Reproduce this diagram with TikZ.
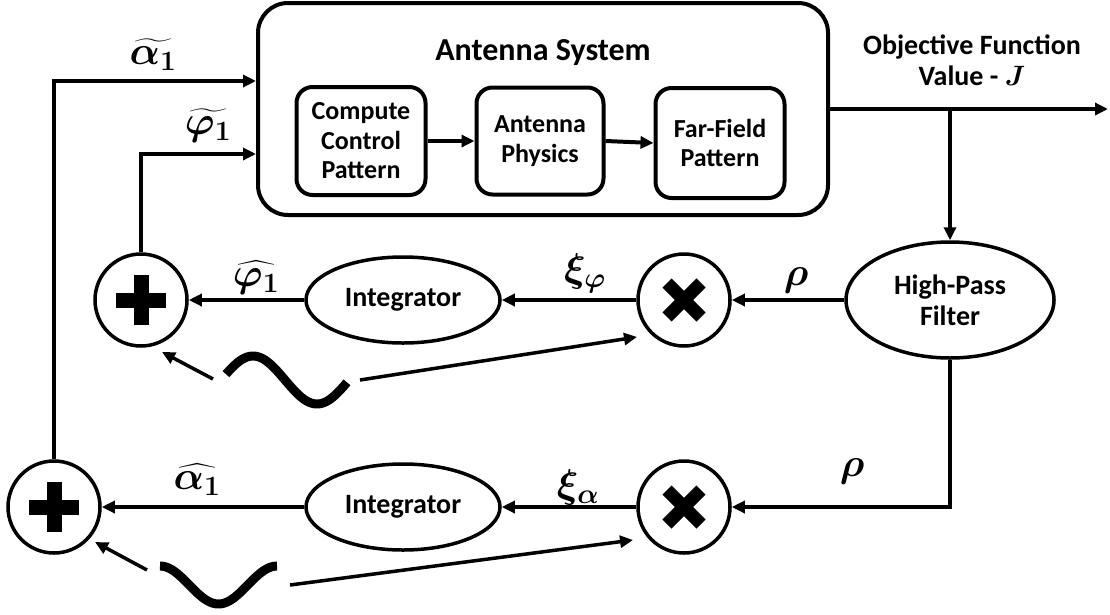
\RequirePackage{fix-cm}
\documentclass[tikz,border=0pt]{standalone}
\usepackage{amsmath}
\usepackage{fontspec}
\setmainfont{Carlito}
\usetikzlibrary{shapes.geometric,arrows.meta}
\newcommand\fnttitle{\fontsize{32}{36}\selectfont\bfseries}
\newcommand\fntin{\fontsize{26}{29.5}\selectfont\bfseries}
\newcommand\fntbody{\fontsize{28}{31}\selectfont\bfseries}
\newcommand\fntmath{\fontsize{40}{40}\selectfont\boldmath}
\begin{document}
\begin{tikzpicture}[x=1pt,y=-1pt,
  every node/.style={inner sep=0pt},
  arr/.style={line width=4pt, -{Triangle[length=13pt,width=12pt]}},
  thinarr/.style={line width=3.5pt, -{Triangle[length=13pt,width=12pt]}},
  outerbox/.style={draw, line width=4pt, rounded corners=30pt, minimum width=570pt, minimum height=212pt},
  innerbox/.style={draw, line width=4pt, rounded corners=16pt, align=center, font=\fntin},
  oval/.style={draw, ellipse, line width=3.5pt, align=center, font=\fntbody},
  junction/.style={draw, circle, line width=3.5pt, minimum size=92pt},
  sym/.style={line width=15pt},
  lbl/.style={font=\fntmath},
  wave/.style={line width=9pt},
]
\useasboundingbox (0,0) rectangle (1110,614);

% antenna system
\node[outerbox] (sys) at (543,109) {};
\node[font=\fnttitle, anchor=base] (title) at (543,60) {Antenna System};
\node[innerbox, minimum width=129pt, minimum height=108pt] (ccp) at (361,141) {Compute\\Control\\Pattern};
\node[innerbox, minimum width=127pt, minimum height=107pt] (aph) at (540,141) {Antenna\\Physics};
\node[innerbox, minimum width=129pt, minimum height=110pt] (ffp) at (720,143) {Far-Field\\Pattern};
\draw[arr] (ccp.east) -- (aph.west);
\draw[arr] (aph.east) -- (ffp.west);

% output
\node[font=\fntbody, align=center] (obj) at (972,60) {Objective Function\\Value - {\boldmath$J$}};
\coordinate (jout) at (1108,109);
\coordinate (br) at (950,109);
\draw[arr] (sys.east) -- (jout);

% feedback blocks
\node[oval, minimum width=208pt, minimum height=116pt] (hpf) at (950,300) {High-Pass\\Filter};
\node[junction] (mul1) at (684,300) {};
\node[junction] (mul2) at (684,507) {};
\node[oval, minimum width=194pt, minimum height=86pt] (int1) at (403,300) {Integrator};
\node[oval, minimum width=194pt, minimum height=86pt] (int2) at (403,507) {Integrator};
\node[junction] (plus1) at (141,300) {};
\node[junction] (plus2) at (54,507) {};

% symbols
\foreach \p in {plus1,plus2}{
  \draw[sym] ([xshift=-25pt]\p.center) -- ([xshift=25pt]\p.center);
  \draw[sym] ([yshift=-25pt]\p.center) -- ([yshift=25pt]\p.center);
}
\foreach \m in {mul1,mul2}{
  \draw[sym, line width=13pt] ([shift={(-17pt,-17pt)}]\m.center) -- ([shift={(17pt,17pt)}]\m.center);
  \draw[sym, line width=13pt] ([shift={(-17pt,17pt)}]\m.center) -- ([shift={(17pt,-17pt)}]\m.center);
}

% connectors
\draw[arr] (br) -- (hpf.north);
\draw[arr] (hpf.west) -- (mul1.east);
\draw[arr] (mul1.west) -- (int1.east);
\draw[arr] (int1.west) -- (plus1.east);
\draw[arr] (hpf.south) |- (mul2.east);
\draw[arr] (mul2.west) -- (int2.east);
\draw[arr] (int2.west) -- (plus2.east);
\draw[arr] (plus1.north) |- ([yshift=-45pt]sys.west);
\draw[arr] (plus2.north) |- ([yshift=28pt]sys.west);

% sine sources
\draw[wave] plot[domain=226:347, samples=60, smooth] (\x, {380 - 24*sin(2.8125*(\x-221))});
\draw[wave] plot[domain=160:277, samples=60, smooth] (\x, {585 - 19*cos(3.0769*(\x-160))});
\coordinate (w1a) at (213,379); \coordinate (w1t) at (162,352);
\coordinate (w1b) at (360,380); \coordinate (w1m) at (637,337);
\coordinate (w2a) at (147,570); \coordinate (w2t) at (95,542);
\coordinate (w2b) at (290,585); \coordinate (w2m) at (633,540);
\draw[thinarr] (w1a) -- (w1t);
\draw[thinarr] (w1b) -- (w1m);
\draw[thinarr] (w2a) -- (w2t);
\draw[thinarr] (w2b) -- (w2m);

% labels
\node[lbl] (la) at (153,55) {$\widetilde{\alpha_1}$};
\node[lbl] (lp) at (208,126) {$\widetilde{\varphi_1}$};
\node[lbl] (lph) at (256,278) {$\widehat{\varphi_1}$};
\node[lbl] (lah) at (197,480) {$\widehat{\alpha_1}$};
\node[lbl] (xp) at (585,273) {$\xi_{\varphi}$};
\node[lbl] (xa) at (578,487) {$\xi_{\alpha}$};
\node[lbl] (r1) at (796,280) {$\rho$};
\node[lbl] (r2) at (852,471) {$\rho$};
\end{tikzpicture}
\end{document}
